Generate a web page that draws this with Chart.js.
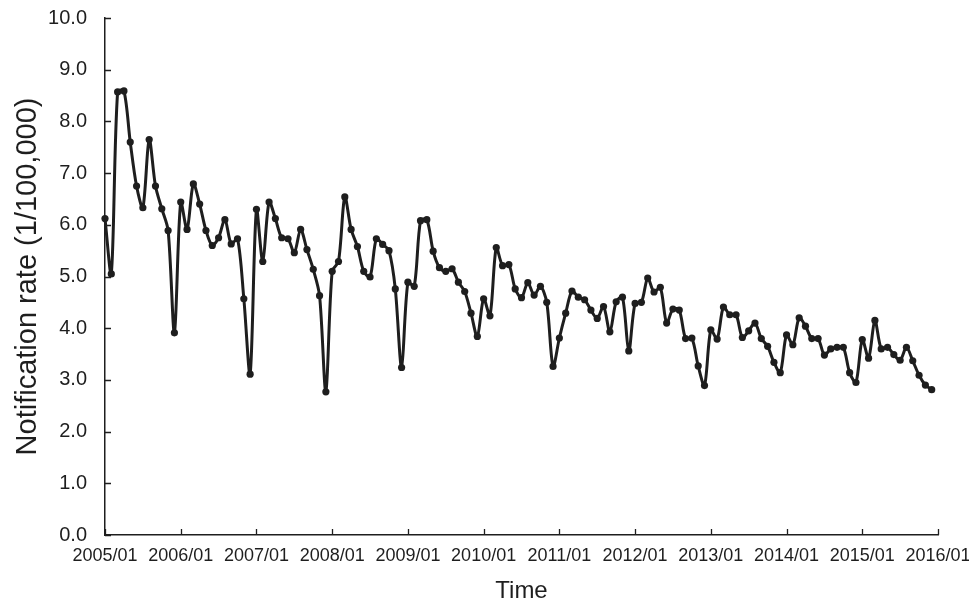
<!DOCTYPE html>
<html>
<head>
<meta charset="utf-8">
<script src="https://cdn.jsdelivr.net/npm/chart.js@4.4.1/dist/chart.umd.min.js"></script>
<style>
  html, body { margin: 0; padding: 0; background: #fff; }
  #chart { display: block; }
</style>
</head>
<body>
<canvas id="chart" width="969" height="603"></canvas>
<script>
const years = ['2005', '2006', '2007', '2008', '2009', '2010', '2011', '2012', '2013', '2014', '2015', '2016'];
const months = ['01', '02', '03', '04', '05', '06', '07', '08', '09', '10', '11', '12'];

const rate2005 = [6.12, 5.05, 8.57, 8.59, 7.60, 6.75, 6.33, 7.65, 6.75, 6.31, 5.89, 3.91];
const rate2006 = [6.44, 5.91, 6.79, 6.40, 5.89, 5.60, 5.75, 6.10, 5.63, 5.73, 4.57, 3.11];
const rate2007 = [6.30, 5.29, 6.44, 6.12, 5.75, 5.73, 5.46, 5.91, 5.52, 5.14, 4.63, 2.77];
const rate2008 = [5.10, 5.29, 6.54, 5.91, 5.58, 5.10, 4.99, 5.73, 5.62, 5.50, 4.76, 3.24];
const rate2009 = [4.89, 4.81, 6.08, 6.10, 5.49, 5.17, 5.10, 5.15, 4.89, 4.71, 4.29, 3.84];
const rate2010 = [4.57, 4.24, 5.56, 5.21, 5.23, 4.76, 4.59, 4.88, 4.64, 4.81, 4.50, 3.26];
const rate2011 = [3.81, 4.29, 4.72, 4.60, 4.55, 4.35, 4.19, 4.42, 3.93, 4.51, 4.60, 3.56];
const rate2012 = [4.48, 4.50, 4.97, 4.70, 4.79, 4.10, 4.37, 4.35, 3.80, 3.81, 3.27, 2.89];
const rate2013 = [3.97, 3.79, 4.41, 4.26, 4.26, 3.82, 3.95, 4.10, 3.80, 3.65, 3.34, 3.14];
const rate2014 = [3.87, 3.68, 4.20, 4.04, 3.80, 3.80, 3.48, 3.60, 3.63, 3.63, 3.14, 2.95];
const rate2015 = [3.78, 3.42, 4.15, 3.60, 3.63, 3.49, 3.38, 3.63, 3.37, 3.09, 2.90, 2.81];

const yTicks = [0, 1, 2, 3, 4, 5, 6, 7, 8, 9, 10];

// monthly categories 2005/01 .. 2016/01 (last one only carries the end tick)
const categories = [];
years.forEach((yr) => {
  months.forEach((m) => {
    if (yr === '2016' && m !== '01') return;
    categories.push(`${yr}/${m}`);
  });
});

const rates = [
  ...rate2005, ...rate2006, ...rate2007, ...rate2008, ...rate2009, ...rate2010,
  ...rate2011, ...rate2012, ...rate2013, ...rate2014, ...rate2015,
];

const ink = '#1e1e1e';
const fontFamily = '"Liberation Sans", Arial, sans-serif';

// tick marks point inward like the original
const innerTicks = {
  id: 'innerTicks',
  afterDraw(chart) {
    const { ctx, chartArea, scales } = chart;
    ctx.save();
    ctx.strokeStyle = ink;
    ctx.lineWidth = 1.3;
    ctx.beginPath();
    scales.y.ticks.forEach((t, i) => {
      const py = Math.round(scales.y.getPixelForTick(i)) + 0.5;
      ctx.moveTo(chartArea.left, py);
      ctx.lineTo(chartArea.left + 6, py);
    });
    scales.x.ticks.forEach((t, i) => {
      const px = Math.round(scales.x.getPixelForTick(i)) + 0.5;
      ctx.moveTo(px, chartArea.bottom);
      ctx.lineTo(px, chartArea.bottom - 6);
    });
    ctx.stroke();
    ctx.restore();
  },
};

new Chart(document.getElementById('chart'), {
  type: 'line',
  data: {
    labels: categories,
    datasets: [{
      data: rates,
      borderColor: ink,
      backgroundColor: ink,
      borderWidth: 3,
      pointRadius: 3.6,
      pointBackgroundColor: ink,
      pointBorderWidth: 0,
      tension: 0.3,
      fill: false,
      clip: false,
    }],
  },
  options: {
    responsive: false,
    animation: false,
    layout: { padding: { top: 18, right: 31, left: 0, bottom: 0 } },
    plugins: {
      legend: { display: false },
      tooltip: { enabled: false },
    },
    scales: {
      x: {
        type: 'category',
        offset: false,
        grid: { display: false, drawTicks: false },
        border: { display: true, color: ink, width: 1.5 },
        afterBuildTicks: (scale) => {
          scale.ticks = scale.ticks.filter((t) => t.value % 12 === 0);
        },
        afterFit: (scale) => {
          scale.height = 68;
          scale.paddingLeft = 0;
          scale.paddingRight = 0;
        },
        ticks: {
          autoSkip: false,
          minRotation: 0,
          maxRotation: 0,
          padding: 10,
          color: ink,
          font: { family: fontFamily, size: 18 },
        },
        title: {
          display: true,
          text: 'Time',
          color: ink,
          padding: { top: 0, bottom: 0 },
          font: { family: fontFamily, size: 24, lineHeight: 1 },
        },
      },
      y: {
        min: 0,
        max: 10,
        grid: { display: false, drawTicks: false },
        border: { display: true, color: ink, width: 1.5 },
        afterBuildTicks: (scale) => {
          scale.ticks = yTicks.map((v) => ({ value: v }));
        },
        afterFit: (scale) => {
          scale.width = 105;
          scale.paddingTop = 0;
          scale.paddingBottom = 0;
        },
        ticks: {
          padding: 18,
          color: ink,
          font: { family: fontFamily, size: 20 },
          callback: (v) => Number(v).toFixed(1),
        },
        title: {
          display: true,
          text: 'Notification rate (1/100,000)',
          color: ink,
          padding: { top: 13, bottom: 0 },
          font: { family: fontFamily, size: 29, lineHeight: 1 },
        },
      },
    },
  },
  plugins: [innerTicks],
});
</script>
</body>
</html>
